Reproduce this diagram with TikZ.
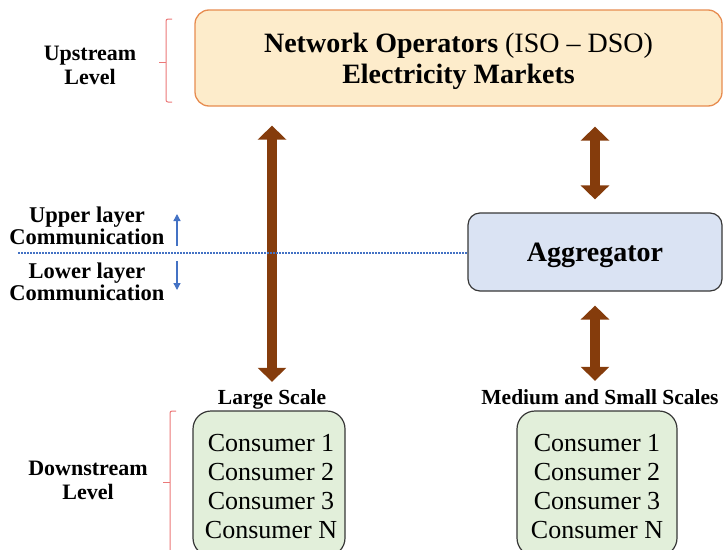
\documentclass[tikz,border=0pt]{standalone}
\usepackage{fontspec}
\setmainfont{Liberation Serif}
\usetikzlibrary{arrows.meta,calc}
\definecolor{topfill}{RGB}{253,236,203}
\definecolor{topdraw}{RGB}{231,140,80}
\definecolor{aggfill}{RGB}{218,227,243}
\definecolor{boxdraw}{RGB}{55,55,55}
\definecolor{consfill}{RGB}{226,239,218}
\definecolor{arrowbrown}{RGB}{133,60,12}
\definecolor{bracered}{RGB}{235,120,120}
\definecolor{commblue}{RGB}{68,114,196}
\begin{document}
\begin{tikzpicture}[x=1pt,y=-1pt,
  bigarrow/.style={draw=arrowbrown, line width=10pt,
    {Triangle[width=28pt,length=14pt]}-{Triangle[width=28pt,length=14pt]}},
  levellbl/.style={align=center, font=\fontsize{22}{24}\selectfont\bfseries, text depth=0pt, inner sep=0pt},
  commlbl/.style={align=center, font=\fontsize{22.5}{22}\selectfont\bfseries, text depth=0pt, inner sep=0pt},
  scalelbl/.style={font=\fontsize{21.5}{24}\selectfont\bfseries, text height=15pt, text depth=4pt, inner sep=0pt},
  consbox/.style={draw=boxdraw, fill=consfill, line width=1.2pt, rounded corners=18pt, inner sep=0pt},
  constext/.style={align=center, font=\fontsize{26}{29}\selectfont, text depth=0pt, inner sep=0pt},
  bracket/.style={draw=bracered, line width=1pt},
  commarrow/.style={draw=commblue, line width=1.3pt, -{Triangle[width=7pt,length=7pt]}}
]
\useasboundingbox (0,0) rectangle (725,549);

% top box
\node[draw=topdraw, fill=topfill, line width=1.3pt, rounded corners=14pt,
      minimum width=527pt, minimum height=96pt, inner sep=0pt,
      align=center, font=\fontsize{28}{31}\selectfont, text depth=0pt] (top) at (458.5,58)
  {\textbf{Network Operators} (ISO – DSO)\\\textbf{Electricity Markets}};

% aggregator
\node[draw=boxdraw, fill=aggfill, line width=1.2pt, rounded corners=12pt,
      minimum width=254pt, minimum height=78pt, inner sep=0pt,
      font=\fontsize{28}{31}\selectfont\bfseries, text depth=0pt] (agg) at (595,252) {Aggregator};

% left labels
\node[levellbl] (upl) at (90,65) {Upstream\\Level};
\node[levellbl] (downl) at (88,480) {Downstream\\Level};
\node[commlbl] (upc) at (87,226) {Upper layer\\Communication};
\node[commlbl] (lowc) at (87,281.5) {Lower layer\\Communication};

% scale labels
\node[scalelbl] (lsl) at (272,398.5) {Large Scale};
\node[scalelbl] (msl) at (600,398.5) {Medium and Small Scales};

% consumer boxes
\node[consbox, minimum width=152pt, minimum height=145pt] (lbox) at (269,483.5) {};
\node[consbox, minimum width=160pt, minimum height=145pt] (rbox) at (597,483.5) {};
\node[constext] (ltext) at (271,486.5) {Consumer 1\\Consumer 2\\Consumer 3\\Consumer N};
\node[constext] (rtext) at (597,486.5) {Consumer 1\\Consumer 2\\Consumer 3\\Consumer N};

% brown arrows
\draw[bigarrow, shorten <=19pt, shorten >=7pt] (top.south -| lsl.north) -- (lsl.north);
\draw[bigarrow, shorten <=20pt, shorten >=13pt] (top.south -| agg.north) -- (agg.north);
\draw[bigarrow, shorten <=14pt, shorten >=8pt] (agg.south) -- (agg.south |- msl.north);

% dotted communication line
\coordinate (dstart) at (18,253);
\draw[draw=commblue, line width=1.8pt, dash pattern=on 1.6pt off 1.4pt] (dstart) -- (agg.west |- dstart);

% small blue arrows
\coordinate (ua0) at (177,246);
\coordinate (ua1) at (177,214);
\coordinate (da0) at (177,261);
\coordinate (da1) at (177,290);
\draw[commarrow] (ua0) -- (ua1);
\draw[commarrow] (da0) -- (da1);

% brackets
\coordinate (b1t) at (172,19);
\coordinate (b1b) at (172,102);
\coordinate (b1m) at (159,62);
\draw[bracket, rounded corners=2pt] (b1t) -- (166,19) -- (166,102) -- (b1b);
\draw[bracket] (166,62) -- (b1m);
\coordinate (b2t) at (176,411);
\coordinate (b2b) at (170,552);
\coordinate (b2m) at (163,482);
\draw[bracket, rounded corners=2pt] (b2t) -- (170,411) -- (b2b);
\draw[bracket] (170,482) -- (b2m);
\end{tikzpicture}
\end{document}
